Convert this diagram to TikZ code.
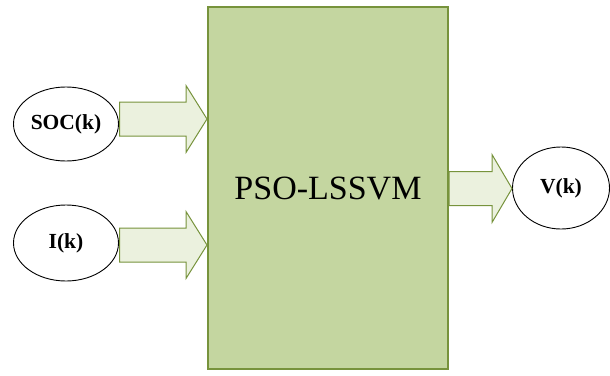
\documentclass[tikz,border=0pt]{standalone}
\usepackage{fontspec}
\setmainfont{Liberation Serif}
\usetikzlibrary{shapes.geometric}
\definecolor{boxfill}{RGB}{196,214,160}
\definecolor{boxline}{RGB}{119,147,60}
\definecolor{arrfill}{RGB}{235,241,222}
\tikzset{
  mainbox/.style={draw=boxline, fill=boxfill, line width=2pt, inner sep=0pt, rectangle},
  oval/.style={ellipse, draw=black, line width=0.9pt, inner sep=0pt, font=\bfseries\fontsize{21.5}{25}\selectfont},
  barrow/.style={draw=boxline, fill=arrfill, line width=1pt, line join=miter}
}
\newcommand{\blockarr}[5]{% x0, xhead, xtip, yc, head half
  \draw[barrow] (#1,#4-17) -- (#2,#4-17) -- (#2,#4-#5) -- (#3,#4) -- (#2,#4+#5) -- (#2,#4+17) -- (#1,#4+17) -- cycle;}
\begin{document}
\begin{tikzpicture}[x=1pt,y=-1pt]
\useasboundingbox (0,0) rectangle (610,375);
\node[mainbox, minimum width=240pt, minimum height=362pt, font=\fontsize{34}{40}\selectfont] (box) at (328,188) {PSO-LSSVM};
\node[oval, minimum width=105pt, minimum height=74pt] (soc) at (66,124) {SOC(k)};
\node[oval, minimum width=105pt, minimum height=76pt] (ik) at (66,243) {I(k)};
\node[oval, minimum width=97pt, minimum height=82pt] (vk) at (561,188) {V(k)};
\blockarr{119.5}{186}{207}{119}{33.5}
\blockarr{119.5}{186}{207}{245}{33.5}
\blockarr{449}{492}{512}{188.5}{34}
\end{tikzpicture}
\end{document}
